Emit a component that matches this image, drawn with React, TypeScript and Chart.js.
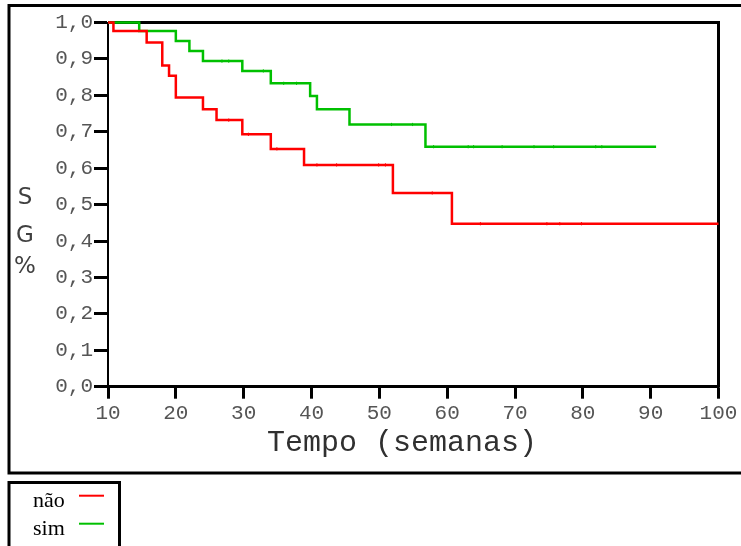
import React, { useEffect, useRef } from 'react';
import { Chart, registerables } from 'chart.js';

Chart.register(...registerables);

const xTickLabels = ['10', '20', '30', '40', '50', '60', '70', '80', '90', '100'];
const yTickLabels = ['0,0', '0,1', '0,2', '0,3', '0,4', '0,5', '0,6', '0,7', '0,8', '0,9', '1,0'];
const seriesNames = ['não', 'sim'];
const xTitle = 'Tempo (semanas)';
const yTitle = ['S', 'G', '%'];

// "não" group (red): step times and survival after each step
const naoTimes = [10, 10.8, 15.7, 18, 19, 20, 24, 26, 29.8, 34, 38.9, 52, 60.7, 100];
const naoSurv = [1, 0.977, 0.945, 0.882, 0.854, 0.794, 0.762, 0.732, 0.693, 0.653, 0.609, 0.532, 0.4475, 0.4475];
const naoCensor = [27.8, 30.7, 34.9, 40.8, 43.7, 49.9, 50.9, 57.8, 64.9, 74.7, 76.6, 79.8];

// "sim" group (green)
const simTimes = [10, 14.6, 20, 22, 24, 29.8, 34, 39.8, 40.8, 45.6, 56.8, 90.8];
const simSurv = [1, 0.977, 0.949, 0.922, 0.894, 0.867, 0.833, 0.798, 0.762, 0.72, 0.659, 0.659];
const simCensor = [26.8, 27.8, 32.9, 35.9, 37.8, 51.8, 54.9, 58.0, 63.1, 63.9, 68.1, 72.8, 75.7, 81.9, 82.8];

const RED = '#ff0000';
const GREEN = '#00c000';
const MONO = '"Liberation Mono", "Courier New", monospace';

function stepValue(times: number[], surv: number[], t: number) {
  let v = surv[0];
  for (let i = 0; i < times.length; i++) if (times[i] <= t) v = surv[i];
  return v;
}

const decorPlugin = {
  id: 'decor',
  beforeDraw(chart: any) {
    const ctx = chart.ctx;
    ctx.save();
    ctx.fillStyle = '#ffffff';
    ctx.fillRect(0, 0, chart.width, chart.height);
    ctx.restore();
  },
  beforeDatasetsDraw(chart: any) {
    const { ctx, chartArea } = chart;
    ctx.save();
    ctx.strokeStyle = '#000';
    ctx.lineWidth = 3;
    ctx.beginPath();
    ctx.moveTo(chartArea.left, chartArea.top);
    ctx.lineTo(chartArea.right, chartArea.top);
    ctx.lineTo(chartArea.right, chartArea.bottom + 1);
    ctx.stroke();
    ctx.restore();
  },
  afterDraw(chart: any) {
    const ctx = chart.ctx;
    ctx.save();
    // outer frame
    ctx.strokeStyle = '#000';
    ctx.lineWidth = 3;
    ctx.strokeRect(9, 5.5, 760, 467.5);
    // legend frame
    ctx.strokeRect(9, 482.5, 110.5, 100);

    // y title stacked
    ctx.fillStyle = '#404040';
    ctx.font = '23px "DejaVu Sans", sans-serif';
    ctx.textAlign = 'center';
    ctx.textBaseline = 'alphabetic';
    const ys = [204, 242, 273];
    yTitle.forEach((s, i) => ctx.fillText(s, 25, ys[i]));

    // x title
    ctx.font = '30px ' + MONO;
    ctx.fillStyle = '#303030';
    ctx.fillText(xTitle, 402, 451);

    // legend
    ctx.font = '22px "Liberation Serif", "Times New Roman", serif';
    ctx.fillStyle = '#000';
    ctx.textAlign = 'left';
    const colors = [RED, GREEN];
    const ty = [507, 535];
    const ly = [495.7, 523.7];
    seriesNames.forEach((n, i) => {
      ctx.fillText(n, 33, ty[i]);
      ctx.strokeStyle = colors[i];
      ctx.lineWidth = 2;
      ctx.beginPath();
      ctx.moveTo(79, ly[i]);
      ctx.lineTo(104, ly[i]);
      ctx.stroke();
    });
    ctx.restore();
  },
};

export default function App() {
  const ref = useRef<HTMLCanvasElement | null>(null);
  useEffect(() => {
    if (!ref.current) return;
    const lineDs = (times: number[], surv: number[], color: string, label: string) => ({
      label,
      data: times.map((t, i) => ({ x: t, y: surv[i] })),
      stepped: 'before' as const,
      borderColor: color,
      borderWidth: 2.5,
      pointRadius: 0,
      fill: false,
      clip: false as const,
    });
    const censorDs = (cens: number[], times: number[], surv: number[], color: string, label: string) => ({
      label,
      data: cens.map((t) => ({ x: t, y: stepValue(times, surv, t) })),
      showLine: false,
      pointStyle: 'line' as const,
      rotation: 90,
      pointRadius: 1.6,
      pointBorderWidth: 1,
      pointBorderColor: color,
      borderColor: color,
      clip: false as const,
    });
    const chart = new Chart(ref.current, {
      type: 'line',
      data: {
        datasets: [
          lineDs(naoTimes, naoSurv, RED, seriesNames[0]),
          lineDs(simTimes, simSurv, GREEN, seriesNames[1]),
          censorDs(naoCensor, naoTimes, naoSurv, RED, seriesNames[0] + ' c'),
          censorDs(simCensor, simTimes, simSurv, GREEN, seriesNames[1] + ' c'),
        ],
      },
      options: {
        animation: false,
        responsive: false,
        devicePixelRatio: 1,
        layout: { padding: { left: 0, top: 22.5, right: 22.5, bottom: 119.3 } },
        plugins: { legend: { display: false }, tooltip: { enabled: false } },
        scales: {
          x: {
            type: 'linear',
            min: 10,
            max: 100,
            ticks: {
              stepSize: 10,
              autoSkip: false,
              maxRotation: 0,
              padding: 2,
              color: '#555555',
              font: { family: MONO, size: 21 },
              callback: (_v: any, i: number) => xTickLabels[i],
            },
            grid: { drawOnChartArea: false, drawTicks: true, tickLength: 12, tickWidth: 3, tickColor: '#000' },
            border: { display: true, color: '#000', width: 3 },
            afterFit: (s: any) => { s.height = 40; },
          },
          y: {
            min: 0,
            max: 1,
            ticks: {
              stepSize: 0.1,
              padding: 1,
              color: '#555555',
              font: { family: MONO, size: 21 },
              callback: (_v: any, i: number) => yTickLabels[i],
            },
            grid: { drawOnChartArea: false, drawTicks: true, tickLength: 14, tickWidth: 3, tickColor: '#000' },
            border: { display: true, color: '#000', width: 2 },
            afterFit: (s: any) => { s.width = 108; },
          },
        },
      },
      plugins: [decorPlugin],
    });
    return () => chart.destroy();
  }, []);
  return (
    <div style={{ position: 'absolute', left: 0, top: 0, width: 741, height: 546, background: '#fff' }}>
      <canvas ref={ref} width={741} height={546} style={{ width: 741, height: 546, display: 'block' }} />
    </div>
  );
}
